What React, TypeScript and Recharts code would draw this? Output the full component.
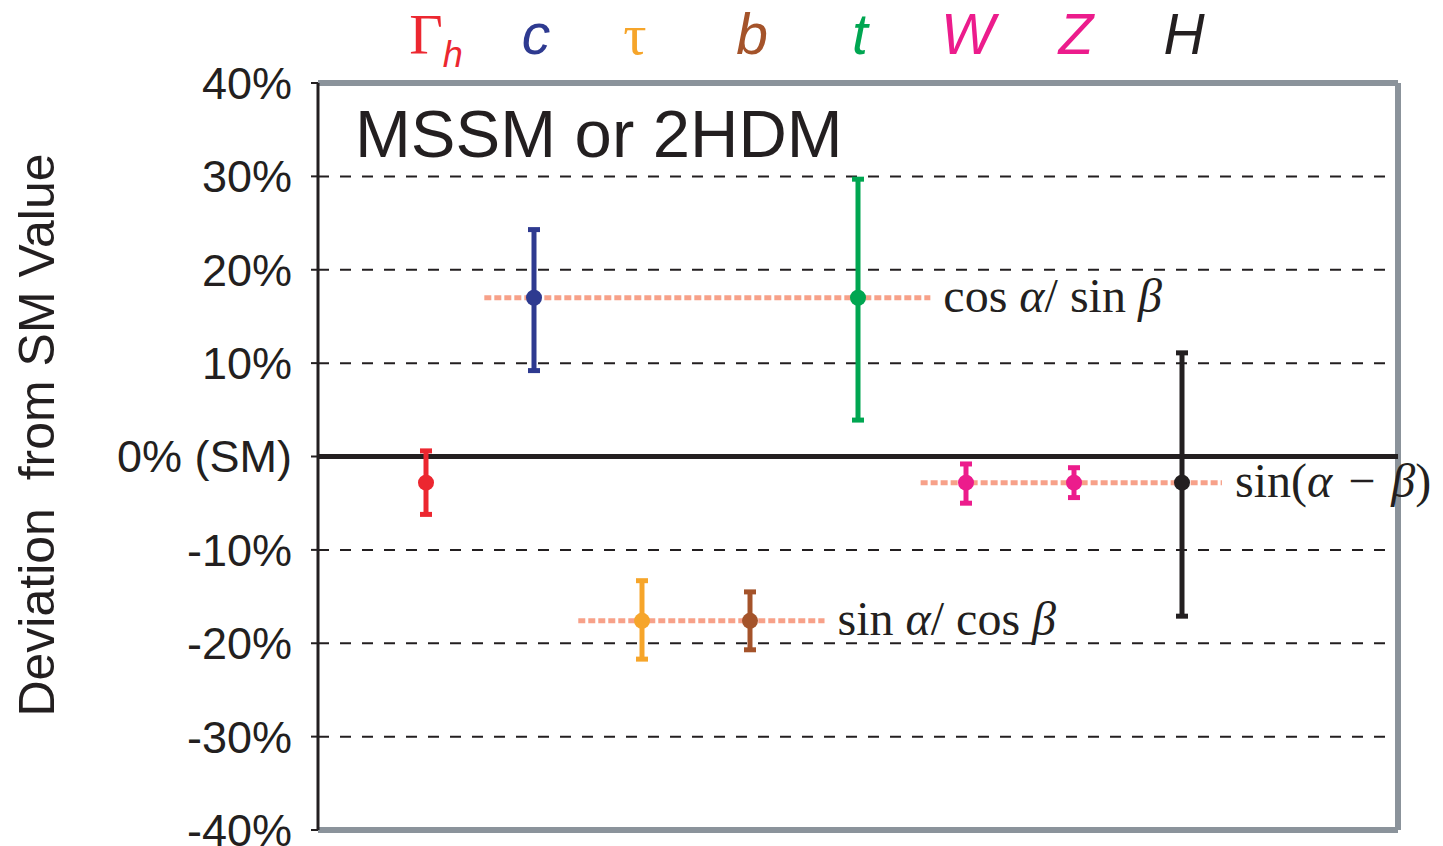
import {
  ScatterChart,
  Scatter,
  XAxis,
  YAxis,
  ErrorBar,
  ReferenceLine,
  Customized,
} from "recharts";

// particles along the top, one column each
const particles = ["Γh", "c", "τ", "b", "t", "W", "Z", "H"];
const positions = [1, 2, 3, 4, 5, 6, 7, 8];
const colors = ["#ec2730", "#2e3a90", "#f6a52a", "#a4532a", "#00a651", "#ec1c8c", "#ec1c8c", "#231f20"];

// deviation from SM (%) and asymmetric errors [down, up]
const centralValues = [-2.8, 17.0, -17.6, -17.6, 17.0, -2.8, -2.8, -2.8];
const errorsDown = [3.4, 7.8, 4.1, 3.1, 13.1, 2.2, 1.6, 14.3];
const errorsUp = [3.4, 7.3, 4.3, 3.1, 12.7, 2.0, 1.6, 13.9];

const yTicks = [-40, -30, -20, -10, 0, 10, 20, 30, 40];
const gridValues = [30, 20, 10, -10, -20, -30];

// coupling-ratio guide lines
const formulaLabels = ["cos α/ sin β", "sin α/ cos β", "sin(α\u2004−\u2004β)"];
const formulaY = [17.0, -17.6, -2.8];
const formulaStart = [1.54, 2.41, 5.58];
const formulaEnd = [5.67, 4.69, 8.37];

const SANS = "'Liberation Sans', Arial, Helvetica, sans-serif";
const SERIF = "'Liberation Serif', 'Times New Roman', serif";
const INK = "#231f20";
const FRAME = "#8b939b";
const SALMON = "#f6977c";

function ParticleTick(props: any) {
  const { x, payload } = props;
  const i = positions.indexOf(payload.value);
  if (i < 0) return null;
  const name = particles[i];
  const color = colors[i];
  const y = 46;
  if (name === "Γh") {
    return (
      <text x={x + 10} y={y} textAnchor="middle" fill={color} fontSize={58}>
        <tspan fontFamily={SERIF}>Γ</tspan>
        <tspan fontFamily={SANS} fontStyle="italic" fontSize={36} dy={13}>
          h
        </tspan>
      </text>
    );
  }
  if (name === "τ") {
    return (
      <text x={x - 7} y={y} textAnchor="middle" fill={color} fontSize={58} fontFamily={SERIF}>
        τ
      </text>
    );
  }
  return (
    <text x={x + 2} y={y} textAnchor="middle" fill={color} fontSize={57} fontFamily={SANS} fontStyle="italic">
      {name}
    </text>
  );
}

function FormulaLabel({ viewBox, text }: any) {
  if (!viewBox) return null;
  const x = viewBox.x + viewBox.width + 13;
  const y = viewBox.y + 14;
  const parts = text.split(/([αβ])/).filter((p: string) => p.length > 0);
  return (
    <text x={x} y={y} fill={INK} fontSize={48} fontFamily={SERIF}>
      {parts.map((p: string, k: number) =>
        p === "α" || p === "β" ? (
          <tspan key={k} fontStyle="italic">
            {p}
          </tspan>
        ) : (
          <tspan key={k}>{p}</tspan>
        )
      )}
    </text>
  );
}

function Decorations() {
  return (
    <g>
      <text x={347} y={149} fontSize={67} fontFamily={SANS} fill={INK}>
        MSSM or 2HDM
      </text>
      <text
        x={29}
        y={427}
        transform="rotate(-90, 29, 427)"
        textAnchor="middle"
        dominantBaseline="central"
        fontSize={50}
        fontFamily={SANS}
        fill={INK}
      >
        {"Deviation\u00a0\u00a0from SM Value"}
      </text>
    </g>
  );
}

export default function App() {
  return (
    <div style={{ width: 1435, height: 838 }}>
      <ScatterChart width={1435} height={838} margin={{ top: 15, right: 45, bottom: 16, left: 80 }}>
        <XAxis
          type="number"
          dataKey="x"
          orientation="top"
          domain={[0, 10]}
          ticks={positions}
          height={60}
          axisLine={false}
          tickLine={false}
          tick={<ParticleTick />}
          interval={0}
        />
        <YAxis
          type="number"
          dataKey="y"
          domain={[-40, 40]}
          ticks={yTicks}
          width={230}
          interval={0}
          stroke={INK}
          strokeWidth={3}
          tickSize={7}
          tickMargin={19}
          tickLine={{ stroke: INK, strokeWidth: 2 }}
          tick={{ fill: INK, fontSize: 45, fontFamily: SANS }}
          tickFormatter={(v: number) => (v === 0 ? "0% (SM)" : `${v}%`)}
        />
        {gridValues.map((g) => (
          <ReferenceLine key={g} y={g} stroke={INK} strokeWidth={2} strokeDasharray="11 11" />
        ))}
        <ReferenceLine y={40} stroke={FRAME} strokeWidth={6} />
        <ReferenceLine y={-40} stroke={FRAME} strokeWidth={6} />
        <ReferenceLine x={10} stroke={FRAME} strokeWidth={6} />
        <ReferenceLine y={0} stroke={INK} strokeWidth={5} />
        {particles.map((p, i) => (
          <Scatter
            key={p}
            name={p}
            data={[{ x: positions[i], y: centralValues[i], err: [errorsDown[i], errorsUp[i]] }]}
            fill={colors[i]}
            shape={(props: any) => <circle cx={props.cx} cy={props.cy} r={8} fill={colors[i]} />}
            isAnimationActive={false}
          >
            <ErrorBar
              dataKey="err"
              direction="y"
              width={6}
              stroke={colors[i]}
              strokeWidth={5}
              isAnimationActive={false}
            />
          </Scatter>
        ))}
        {formulaLabels.map((f, i) => (
          <ReferenceLine
            key={f}
            segment={[
              { x: formulaStart[i], y: formulaY[i] },
              { x: formulaEnd[i], y: formulaY[i] },
            ]}
            stroke={SALMON}
            strokeWidth={5}
            strokeDasharray="7 3"
            strokeOpacity={0.9}
            label={(props: any) => <FormulaLabel {...props} text={f} />}
          />
        ))}
        <Customized component={Decorations} />
      </ScatterChart>
    </div>
  );
}
